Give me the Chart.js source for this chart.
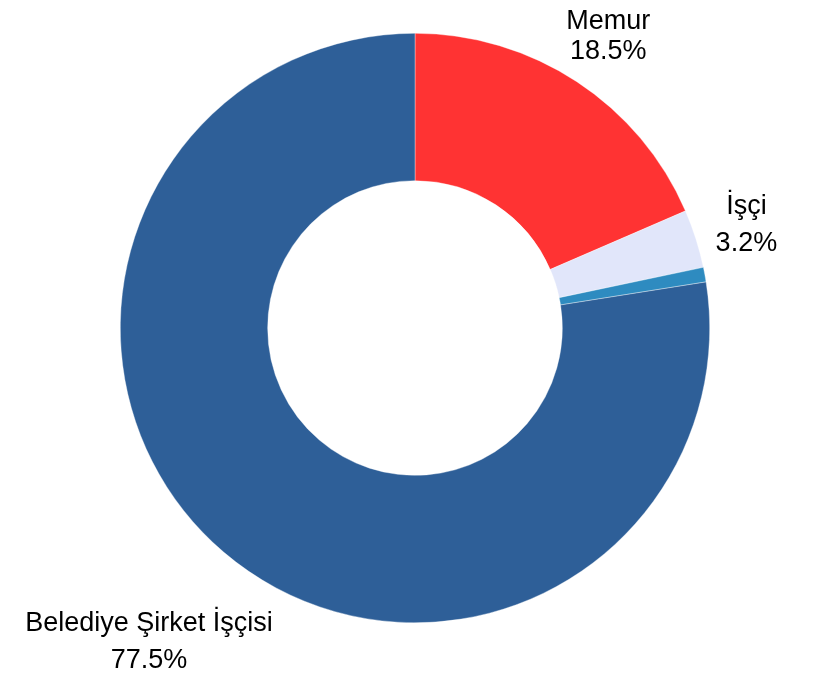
<!DOCTYPE html>
<html>
<head>
<meta charset="utf-8">
<script src="https://cdn.jsdelivr.net/npm/chart.js@4"></script>
<style>
  html, body { margin: 0; padding: 0; background: #fff; }
  #wrap { width: 820px; height: 689px; }
</style>
</head>
<body>
<div id="wrap"><canvas id="donut"></canvas></div>
<script>
const categories = ['Memur', 'İşçi', 'Diğer', 'Belediye Şirket İşçisi'];
const shares = [18.5, 3.2, 0.8, 77.5];
const showLabel = [true, true, false, true];
const sliceColors = ['#FF3333', '#E1E6FA', '#2E8BC0', '#2E5F98'];
// label placement: distance as a multiple of the outer radius, and gap between the two lines
const labelRadius = [1.195, 1.18, 1, 1.39];
const lineGap = [30, 37, 37, 37];

const outsideLabels = {
    id: 'outsideLabels',
    afterDatasetsDraw(chart) {
        const ctx = chart.ctx;
        const arcs = chart.getDatasetMeta(0).data;
        ctx.save();
        ctx.font = '27px "Liberation Sans", Arial, sans-serif';
        ctx.fillStyle = '#000';
        ctx.textAlign = 'center';
        ctx.textBaseline = 'alphabetic';
        arcs.forEach((arc, i) => {
            if (!showLabel[i]) return;
            const mid = (arc.startAngle + arc.endAngle) / 2;
            const r = arc.outerRadius * labelRadius[i];
            const x = arc.x + Math.cos(mid) * r;
            const y = arc.y + Math.sin(mid) * r + 10;
            ctx.fillText(categories[i], x, y - lineGap[i] / 2);
            ctx.fillText(shares[i].toFixed(1) + '%', x, y + lineGap[i] / 2);
        });
        ctx.restore();
    }
};

new Chart(document.getElementById('donut').getContext('2d'), {
    type: 'doughnut',
    data: {
        labels: categories,
        datasets: [{
            data: shares,
            backgroundColor: sliceColors,
            borderColor: 'rgba(255,255,255,0.6)',
            borderWidth: 0.6
        }]
    },
    options: {
        responsive: true,
        maintainAspectRatio: false,
        animation: false,
        cutout: '50%',
        layout: { padding: { top: 33, bottom: 66, left: 10, right: 0 } },
        plugins: {
            legend: { display: false },
            tooltip: { enabled: false }
        }
    },
    plugins: [outsideLabels]
});
</script>
</body>
</html>
